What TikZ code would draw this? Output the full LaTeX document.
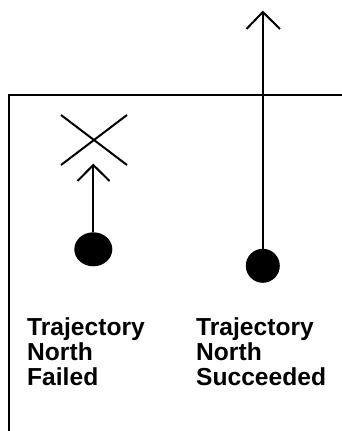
\documentclass[tikz,border=0pt]{standalone}
\usepackage{fontspec}
\setmainfont{Liberation Sans}
\usetikzlibrary{shapes.geometric}
\begin{document}
\begin{tikzpicture}[x=1pt,y=-1pt,
  stroke/.style={line width=2pt},
  dot/.style={ellipse,fill=black,inner sep=0pt},
  label/.style={anchor=north west,align=left,inner sep=0pt,
    font=\bfseries\fontsize{24.6}{25}\selectfont}]
\useasboundingbox (0,0) rectangle (342,431);
% wall
\coordinate (wtop) at (8.5,95);
\coordinate (wbot) at (8.5,431);
\coordinate (wright) at (342,95);
\draw[stroke] (wbot) -- (wtop) -- (wright);
% failed trajectory
\node[dot,minimum width=38pt,minimum height=34pt] (d1) at (93.3,249.3) {};
\coordinate (t1) at (93.3,165);
\draw[stroke] (d1) -- (t1);
\draw[stroke] (77.5,181) -- (t1) -- (109.5,181);
\draw[stroke] (61,115) -- (127,165);
\draw[stroke] (127,115) -- (61,165);
% succeeded trajectory
\node[dot,minimum width=34pt,minimum height=34pt] (d2) at (262.8,265.8) {};
\coordinate (t2) at (262.8,12);
\draw[stroke] (d2) -- (t2);
\draw[stroke] (246.5,29) -- (t2) -- (280,29);
% labels
\node[label] (l1) at (27,317.5) {Trajectory\\North\\Failed};
\node[label] (l2) at (196,317.5) {Trajectory\\North\\Succeeded};
\end{tikzpicture}
\end{document}
